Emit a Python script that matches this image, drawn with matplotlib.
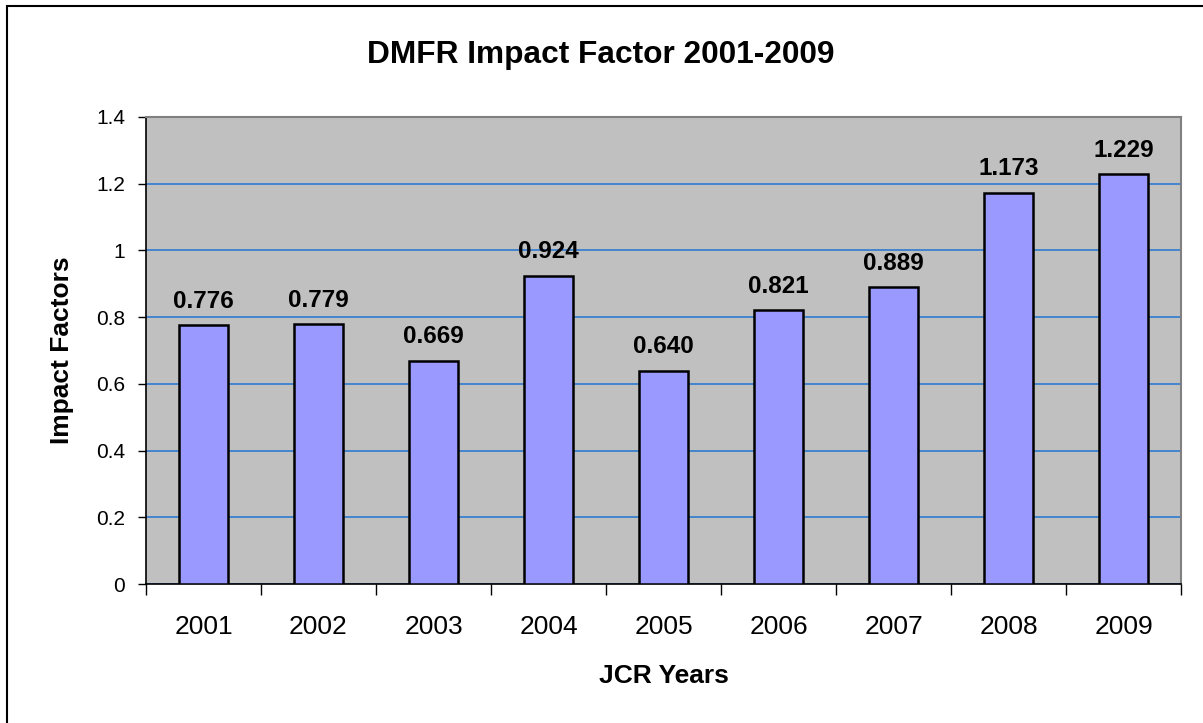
import matplotlib
matplotlib.use("Agg")
from matplotlib import pyplot as plt
from matplotlib.patches import Rectangle

# データ
years = ['2001', '2002', '2003', '2004', '2005', '2006', '2007', '2008', '2009']
impact = [0.776, 0.779, 0.669, 0.924, 0.640, 0.821, 0.889, 1.173, 1.229]
labels = ['0.776', '0.779', '0.669', '0.924', '0.640', '0.821', '0.889', '1.173', '1.229']
yticks = [0, 0.2, 0.4, 0.6, 0.8, 1, 1.2, 1.4]
yticklabels = ['0', '0.2', '0.4', '0.6', '0.8', '1', '1.2', '1.4']

plt.rcParams['font.family'] = ['Liberation Sans', 'DejaVu Sans']

W, H = 1203, 723
fig = plt.figure(figsize=(W / 100, H / 100), dpi=100)

# 外枠
fig.patches.append(Rectangle((7 / W, -0.1), 1.2, 1 - 6 / H + 0.1, transform=fig.transFigure,
                             fill=False, edgecolor='black', linewidth=1.5))

ax = fig.add_axes([146 / W, 1 - 584 / H, (1181 - 146) / W, (584 - 117) / H])
ax.set_facecolor('#C0C0C0')

x = list(range(len(years)))
ax.bar(x, impact, width=0.42, color='#9999FF', edgecolor='black', linewidth=1.8, zorder=3)

for xi, v, t in zip(x, impact, labels):
  ax.annotate(t, (xi, v), xytext=(0, 12.5), textcoords='offset points',
              ha='center', va='baseline', fontsize=17.5, fontweight='bold')

ax.set_xlim(-0.5, len(years) - 0.5)
ax.set_ylim(0, 1.4)
ax.set_yticks(yticks)
ax.set_yticklabels(yticklabels, fontsize=15)
ax.yaxis.grid(True, color='#2F7BD0', linewidth=1.2, zorder=1)
ax.set_axisbelow(True)

# x軸の目盛は区切り位置に
ax.set_xticks([i - 0.5 for i in range(len(years) + 1)])
ax.set_xticklabels([])
ax.set_xticks(x, minor=True)
ax.set_xticklabels(years, minor=True, fontsize=19)
ax.tick_params(axis='x', which='major', length=8, width=1, direction='out', color='black')
ax.tick_params(axis='x', which='minor', length=0, pad=22)
ax.tick_params(axis='y', length=6, width=1, direction='out', pad=9)

for s in ['top', 'right']:
  ax.spines[s].set_color('#808080')
  ax.spines[s].set_linewidth(1.5)
for s in ['left', 'bottom']:
  ax.spines[s].set_color('black')
  ax.spines[s].set_linewidth(1.2)

ax.set_xlabel('JCR Years', fontsize=19, fontweight='bold', labelpad=18)
ax.set_ylabel('Impact Factors', fontsize=19, fontweight='bold', labelpad=16)
fig.text(601 / W, 1 - 55 / H, 'DMFR Impact Factor 2001-2009', ha='center', va='center',
         fontsize=22.8, fontweight='bold')

plt.savefig('out.png', dpi=100)
